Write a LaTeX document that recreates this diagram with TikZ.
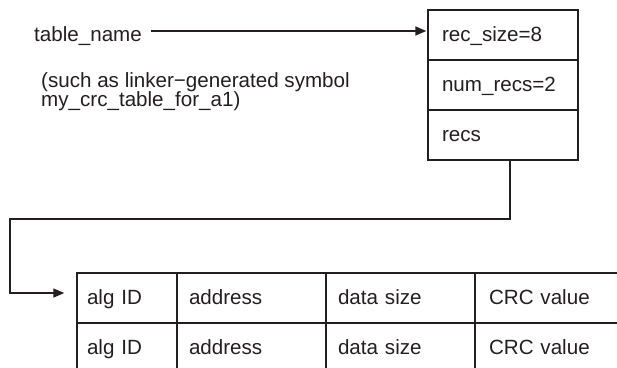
\documentclass[tikz,border=0pt]{standalone}
\usepackage{fontspec}
\setmainfont{Liberation Sans}
\usetikzlibrary{arrows.meta}
\definecolor{ink}{HTML}{231F20}
\begin{document}
\begin{tikzpicture}[x=1pt,y=-1pt,
  every node/.style={font=\fontsize{20.6}{20}\selectfont, text=ink},
  cell/.style={draw=ink, line width=1.4pt, minimum height=50pt, inner ysep=0pt,
    align=left, text height=16pt, text depth=4pt},
  lbl/.style={inner sep=0pt, text height=16pt, text depth=4pt},
  link/.style={draw=ink, line width=1.4pt, -{Triangle[length=11pt,width=9pt]}}]
\clip (0,0) rectangle (617,367);
% left labels
\node[lbl, anchor=west] (tn) at (34,35) {table\_name};
\node[lbl, anchor=west] (note1) at (41,81) {(such as linker−generated symbol};
\node[lbl, anchor=west] (note2) at (41,100) {my\_crc\_table\_for\_a1)};
% header box
\node[cell, inner xsep=14pt, text width=122pt] (r1) at (503,35) {rec\_size=8};
\node[cell, inner xsep=14pt, text width=122pt] (r2) at (503,85) {num\_recs=2};
\node[cell, inner xsep=14pt, text width=122pt] (r3) at (503,135) {recs};
% records table
\node[cell, inner xsep=10pt, text width=80pt]  (a1) at (127,298)   {alg ID};
\node[cell, inner xsep=12pt, text width=125pt] (b1) at (251.5,298) {address};
\node[cell, inner xsep=12pt, text width=125pt] (c1) at (400.5,298) {data size};
\node[cell, inner xsep=14pt, text width=121pt] (d1) at (549.5,298) {CRC value};
\node[cell, inner xsep=10pt, text width=80pt]  (a2) at (127,348)   {alg ID};
\node[cell, inner xsep=12pt, text width=125pt] (b2) at (251.5,348) {address};
\node[cell, inner xsep=12pt, text width=125pt] (c2) at (400.5,348) {data size};
\node[cell, inner xsep=14pt, text width=121pt] (d2) at (549.5,348) {CRC value};
% connectors
\coordinate (s) at ([xshift=9pt,yshift=4pt]tn.east);
\draw[link, shorten >=1pt] (s) -- (s -| r1.west);
\coordinate (bend) at (10,219);
\draw[link, shorten >=12pt] ([xshift=7pt]r3.south) |- (bend) |- ([yshift=5pt]a1.west);
\end{tikzpicture}
\end{document}
